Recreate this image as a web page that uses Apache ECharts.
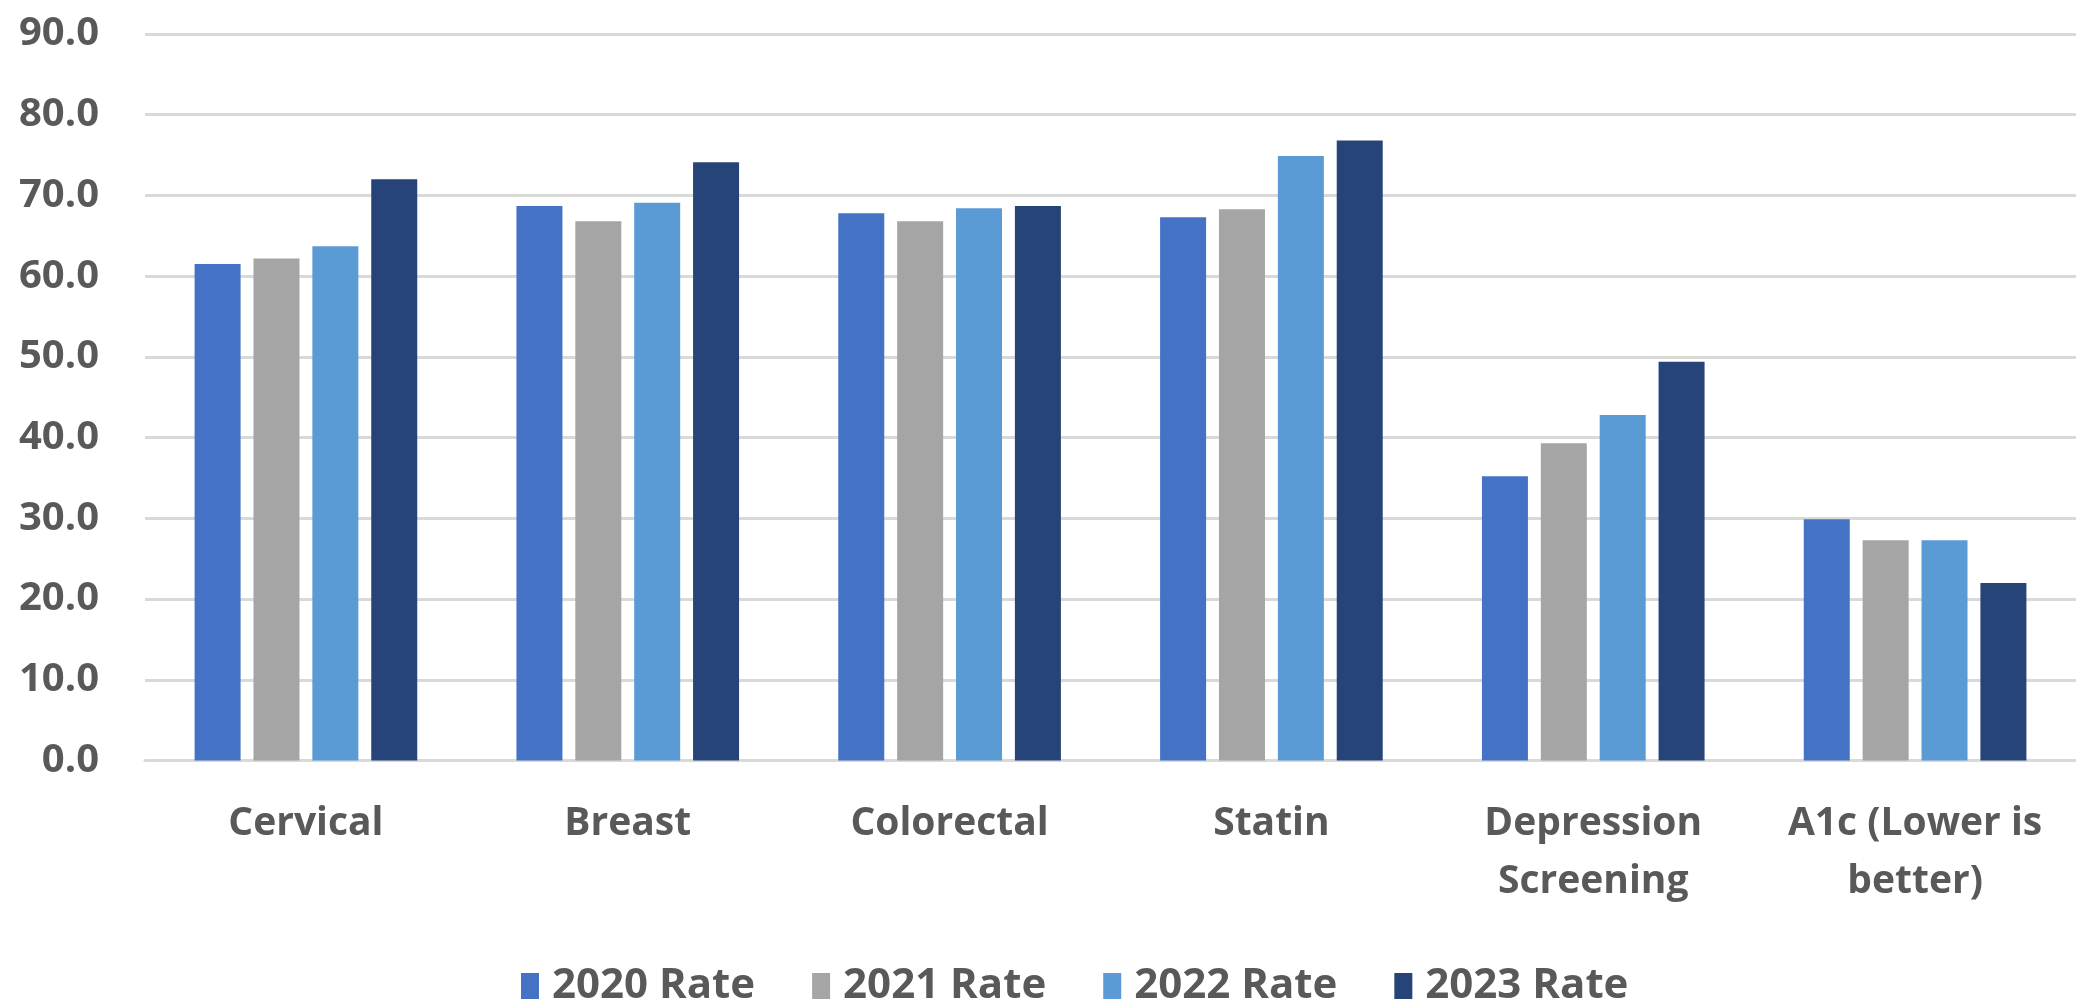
<!DOCTYPE html>
<html>
<head>
<meta charset="utf-8">
<title>Quality Measure Rates 2020–2023</title>
<script src="https://cdn.jsdelivr.net/npm/echarts@6/dist/echarts.min.js"></script>
<style>
  html, body { margin: 0; padding: 0; background: #ffffff; }
  #chart { width: 2076px; height: 1005px; }
</style>
</head>
<body>
<div id="chart"></div>
<script>
// Measures along the x axis
const categories = ['Cervical', 'Breast', 'Colorectal', 'Statin', 'Depression\nScreening', 'A1c (Lower is\nbetter)'];

// Yearly rates per measure
const rate2020 = [61.5, 68.7, 67.8, 67.3, 35.2, 29.9];
const rate2021 = [62.2, 66.8, 66.8, 68.3, 39.3, 27.3];
const rate2022 = [63.7, 69.1, 68.4, 74.9, 42.8, 27.3];
const rate2023 = [72.0, 74.1, 68.7, 76.8, 49.4, 22.0];

const seriesNames = ['2020 Rate', '2021 Rate', '2022 Rate', '2023 Rate'];
const seriesData = [rate2020, rate2021, rate2022, rate2023];
const seriesColors = ['#4472C4', '#A5A5A5', '#5B9BD5', '#264478'];

// Value axis range
const yMin = 0;
const yMax = 90;
const yStep = 10;

const FONT = '"Open Sans", "Noto Sans", sans-serif';
const TEXT_COLOR = '#595959';
const GRID_COLOR = '#D9D9D9';

const chart = echarts.init(document.getElementById('chart'));

chart.setOption({
  animation: false,
  backgroundColor: '#ffffff',
  textStyle: { fontFamily: FONT },
  grid: { left: 145, right: -11, top: 34, bottom: 244.5, containLabel: false },
  legend: {
    data: seriesNames,
    left: 516,
    top: 960,
    itemWidth: 18,
    itemHeight: 26,
    itemGap: 57,
    icon: 'rect',
    textStyle: {
      fontFamily: FONT,
      fontSize: 42,
      fontWeight: 'bold',
      color: TEXT_COLOR,
      padding: [0, 0, 0, 8]
    }
  },
  xAxis: {
    type: 'category',
    data: categories,
    axisTick: { show: false },
    axisLine: { show: true, lineStyle: { color: GRID_COLOR, width: 3 } },
    axisLabel: {
      interval: 0,
      margin: 34,
      fontFamily: FONT,
      fontSize: 39,
      fontWeight: 'bold',
      lineHeight: 58,
      color: TEXT_COLOR
    }
  },
  yAxis: {
    type: 'value',
    min: yMin,
    max: yMax,
    interval: yStep,
    axisLine: { show: false },
    axisTick: { show: false },
    splitLine: { show: true, lineStyle: { color: GRID_COLOR, width: 3 } },
    axisLabel: {
      margin: 46,
      fontFamily: FONT,
      fontSize: 40,
      fontWeight: 'bold',
      color: TEXT_COLOR,
      formatter: v => v.toFixed(1)
    }
  },
  series: seriesNames.map((name, i) => ({
    name: name,
    type: 'bar',
    data: seriesData[i],
    barWidth: 46,
    barGap: '28%',
    itemStyle: { color: seriesColors[i] }
  }))
});
</script>
</body>
</html>
